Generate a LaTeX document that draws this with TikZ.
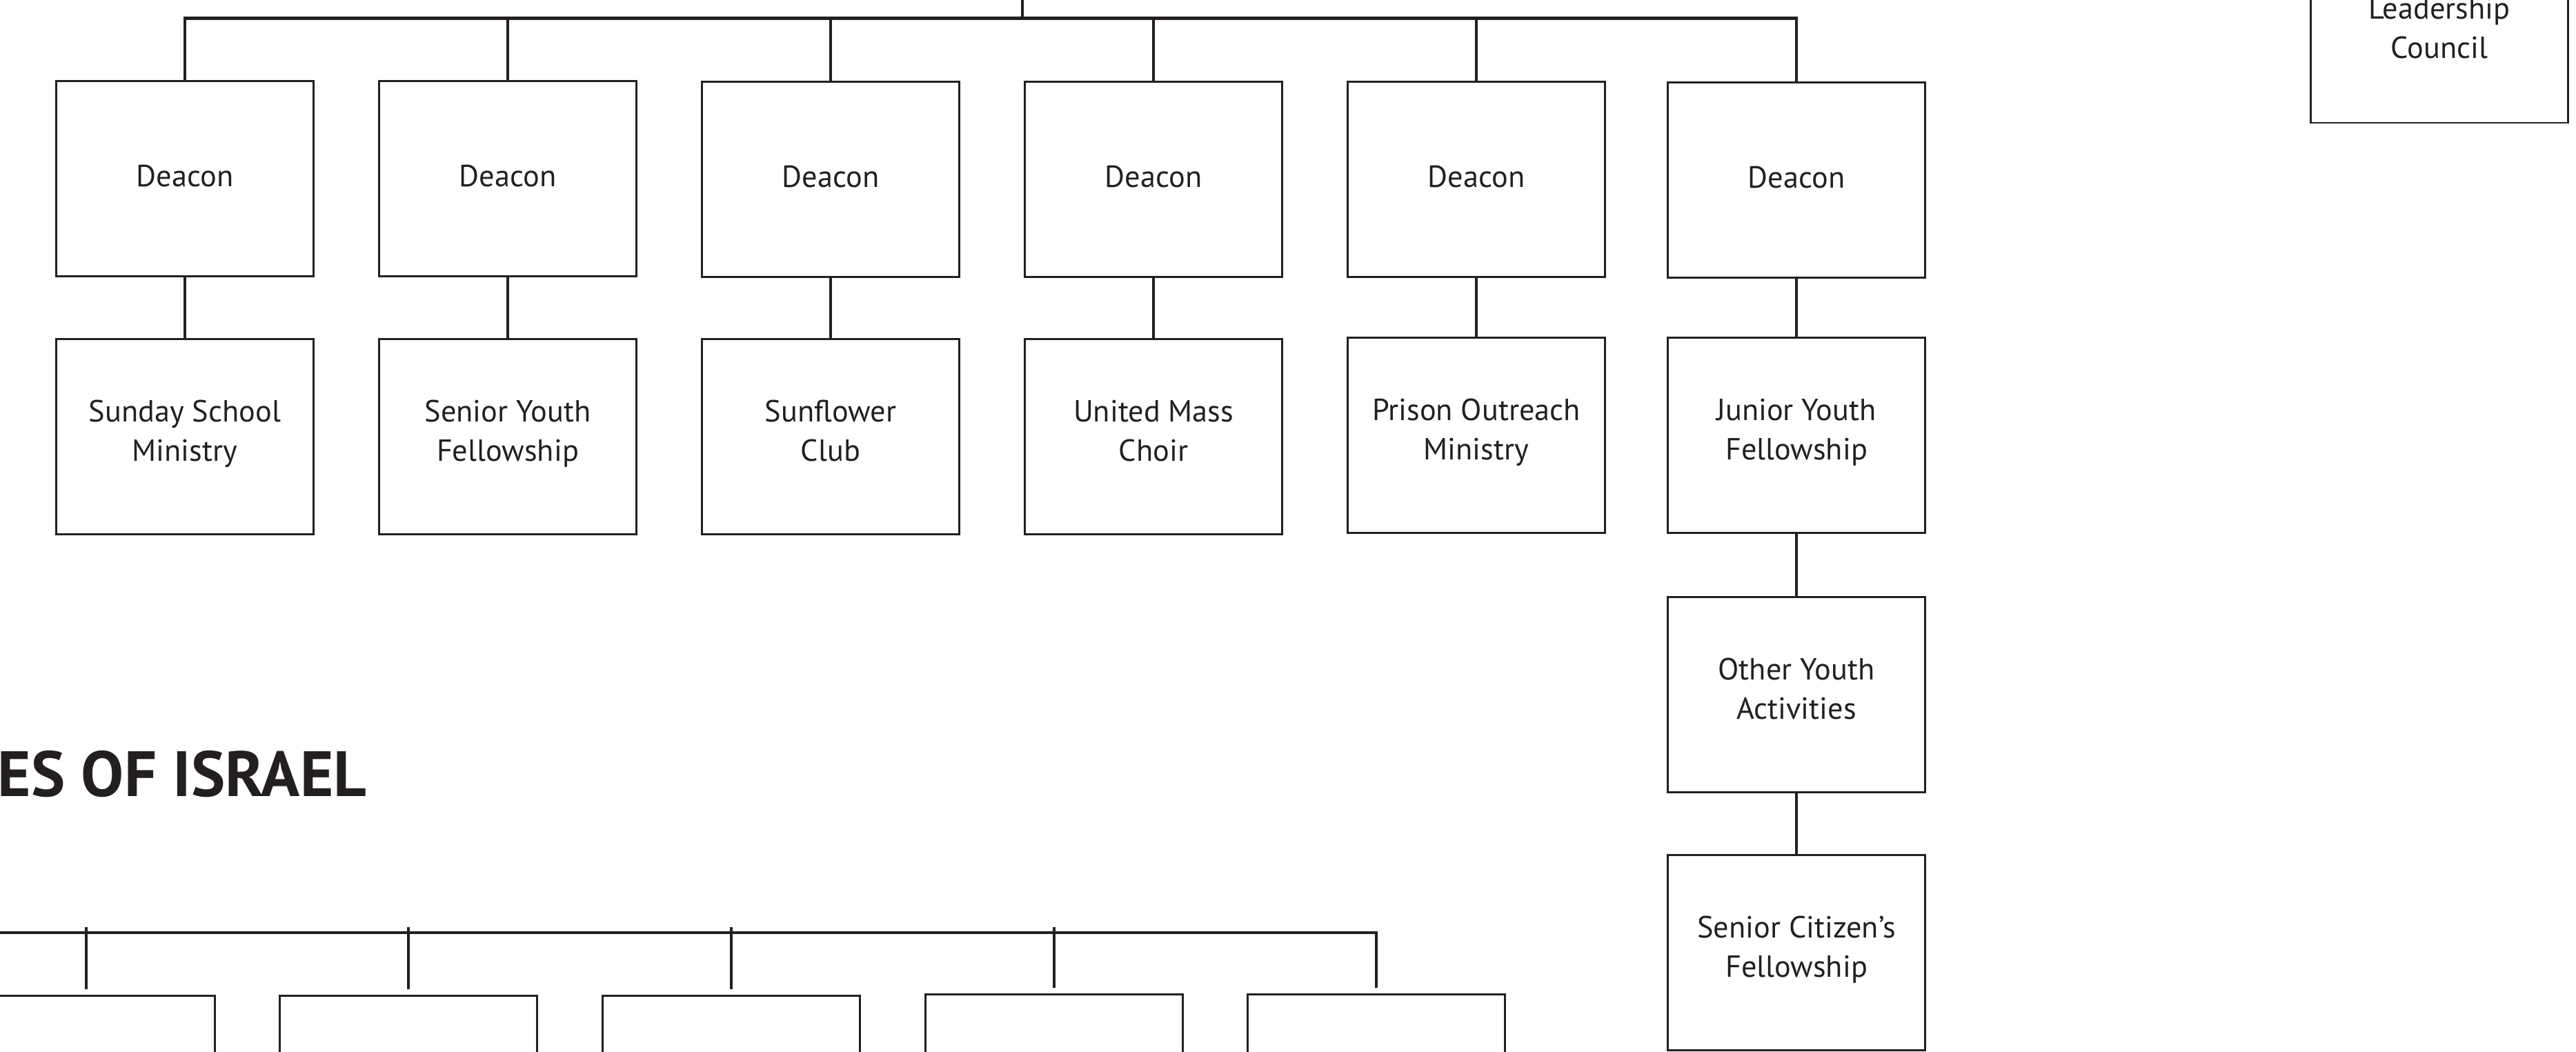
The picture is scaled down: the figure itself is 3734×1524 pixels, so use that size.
\documentclass[tikz,border=0pt]{standalone}
\usepackage{fontspec}
\setmainfont{PT Sans}
\definecolor{chart ink}{HTML}{231F20}
\colorlet{box edge}{chart ink}
\colorlet{link edge}{chart ink}
\tikzset{unit/.style={draw=box edge, line width=0.8pt, minimum width=3.73cm, minimum height=2.83cm,
        inner sep=0pt, align=center, text=chart ink, font=\fontsize{12.6pt}{16.4pt}\selectfont,
        execute at begin node=\strut, execute at end node=\strut},
    link/.style={draw=link edge, line width=1.2pt},
    heading/.style={inner sep=0pt, anchor=base west, text=chart ink, font=\fontsize{26.4pt}{30pt}\selectfont\bfseries}}
\def\pageframe{(0,0) rectangle (3734,1524)}

\begin{document}
\begin{tikzpicture}[x=0.01cm, y=-0.01cm]
 \useasboundingbox \pageframe;
 \clip \pageframe;

 % deacons
 \node[unit] (deaconA) at (268,259) {Deacon};
 \node[unit] (deaconB) at (736,259) {Deacon};
 \node[unit] (deaconC) at (1204,260) {Deacon};
 \node[unit] (deaconD) at (1672,260) {Deacon};
 \node[unit] (deaconE) at (2140,260) {Deacon};
 \node[unit] (deaconF) at (2604,261) {Deacon};

 % ministries
 \node[unit] (sunday) at (268,633) {Sunday School\\Ministry};
 \node[unit] (senioryouth) at (736,633) {Senior Youth\\Fellowship};
 \node[unit] (sunflower) at (1204,633) {Sunflower\\Club};
 \node[unit] (choir) at (1672,633) {United Mass\\Choir};
 \node[unit] (prison) at (2140,631) {Prison Outreach\\Ministry};
 \node[unit] (junioryouth) at (2604,631) {Junior Youth\\Fellowship};
 \node[unit] (otheryouth) at (2604,1007) {Other Youth\\Activities};
 \node[unit] (seniorcitizen) at (2604,1381) {Senior Citizen’s\\Fellowship};

 \node[unit, minimum height=2.58cm] (council) at (3536,49) {Leadership\\Council};

 \node[heading] (title) at (-4,1154) {ES OF ISRAEL};

 % lower row
 \node[unit] (lowA) at (125,1585) {};
 \node[unit] (lowB) at (592,1585) {};
 \node[unit] (lowC) at (1060,1585) {};
 \node[unit] (lowD) at (1528,1583) {};
 \node[unit] (lowE) at (1995,1583) {};

 \coordinate (topbar) at (1482,26.5);
 \coordinate (abovetop) at (1482,0);
 \coordinate (lowbar) at (0,1352);

 \draw[link] (deaconA.north) |- (topbar) -| (deaconF.north);
 \draw[link] (abovetop) -- (topbar);
 \draw[link] (deaconB.north) -- (deaconB.north |- topbar);
 \draw[link] (deaconC.north) -- (deaconC.north |- topbar);
 \draw[link] (deaconD.north) -- (deaconD.north |- topbar);
 \draw[link] (deaconE.north) -- (deaconE.north |- topbar);

 \draw[link] (deaconA.south) -- (sunday.north);
 \draw[link] (deaconB.south) -- (senioryouth.north);
 \draw[link] (deaconC.south) -- (sunflower.north);
 \draw[link] (deaconD.south) -- (choir.north);
 \draw[link] (deaconE.south) -- (prison.north);
 \draw[link] (deaconF.south) -- (junioryouth.north);
 \draw[link] (junioryouth.south) -- (otheryouth.north);
 \draw[link] (otheryouth.south) -- (seniorcitizen.north);

 \draw[link] (lowbar) -| ([yshift=0.08cm]lowE.north);
 \draw[link] ([yshift=0.08cm]lowA.north) -- ([yshift=0.08cm]lowA.north |- lowbar);
 \draw[link] ([yshift=0.08cm]lowB.north) -- ([yshift=0.08cm]lowB.north |- lowbar);
 \draw[link] ([yshift=0.08cm]lowC.north) -- ([yshift=0.08cm]lowC.north |- lowbar);
 \draw[link] ([yshift=0.08cm]lowD.north) -- ([yshift=0.08cm]lowD.north |- lowbar);

\end{tikzpicture}
\end{document}
